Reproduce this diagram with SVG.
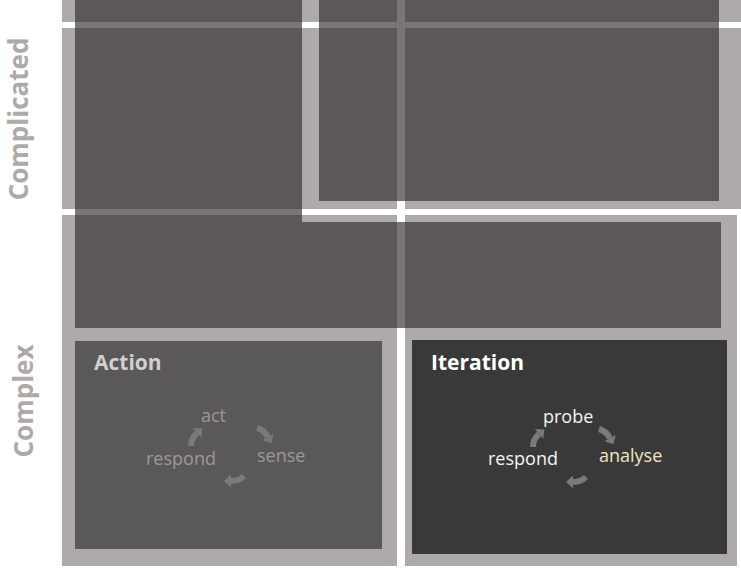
<svg xmlns="http://www.w3.org/2000/svg" width="741" height="572" viewBox="0 0 741 572">
<style>
.cell{fill:#aeaaa9}
.dim{fill:#2f2d2e;fill-opacity:0.65}
.axis{font-family:"Open Sans","Noto Sans",sans-serif;font-weight:700;font-size:26px;fill:#aeaaa9}
.title{font-family:"Open Sans","Noto Sans",sans-serif;font-weight:700;font-size:21px}
.step{font-family:"Open Sans","Noto Sans",sans-serif;font-size:18px}
.arc{fill:none;stroke:#7b7979;stroke-width:6;marker-end:url(#head)}
</style>
<defs>
<marker id="head" markerUnits="userSpaceOnUse" markerWidth="8" markerHeight="13" refX="0" refY="6.5" orient="auto" viewBox="0 0 8 13"><path d="M0,0 L7,6.5 L0,13 z" fill="#7b7979"/></marker>
</defs>
<rect width="741" height="572" fill="#ffffff"/>
<g id="cells">
<rect class="cell" x="62" y="0" width="335" height="22"/>
<rect class="cell" x="405" y="0" width="336" height="22"/>
<rect class="cell" x="62" y="28" width="335" height="181"/>
<rect class="cell" x="405" y="28" width="336" height="181"/>
<rect class="cell" x="62" y="215" width="335" height="351"/>
<rect class="cell" x="405" y="215" width="332" height="351"/>
</g>
<g id="dimmed">
<rect class="dim" x="75" y="0" width="227" height="328"/>
<rect class="dim" x="319" y="0" width="400" height="201"/>
<rect class="dim" x="302" y="222" width="419" height="106"/>
</g>
<g id="axis-complicated"><text class="axis" transform="translate(28,119) rotate(-90)" text-anchor="middle">Complicated</text></g>
<g id="axis-complex"><text class="axis" transform="translate(33,401) rotate(-90)" text-anchor="middle">Complex</text></g>
<g id="action">
<rect x="75" y="341" width="307" height="208" fill="#5b5859"/>
<text class="title" x="94" y="370" fill="#d3cfce">Action</text>
<text class="step" x="201" y="422" fill="#9c9898">act</text>
<text class="step" x="257" y="462" fill="#9c9898">sense</text>
<text class="step" x="146" y="465" fill="#9c9898">respond</text>
</g>
<g id="iteration">
<rect x="412" y="340" width="315" height="214" fill="#393939"/>
<text class="title" x="431" y="370" fill="#ffffff">Iteration</text>
<text class="step" x="543" y="423" fill="#f4f4f4">probe</text>
<text class="step" x="599" y="462" fill="#f2e4c4">analyse</text>
<text class="step" x="488" y="465" fill="#f4f4f4">respond</text>
</g>
<g id="connectors">
<path class="arc" d="M257,428 Q264,430 268,437"/>
<path class="arc" d="M244,476 Q239,481 231,481"/>
<path class="arc" d="M191,446 Q191,438 197,433"/>
<path class="arc" d="M599,429 Q606,431 610,438"/>
<path class="arc" d="M586,477 Q581,482 573,482"/>
<path class="arc" d="M533,447 Q533,439 539,434"/>
</g>
</svg>
